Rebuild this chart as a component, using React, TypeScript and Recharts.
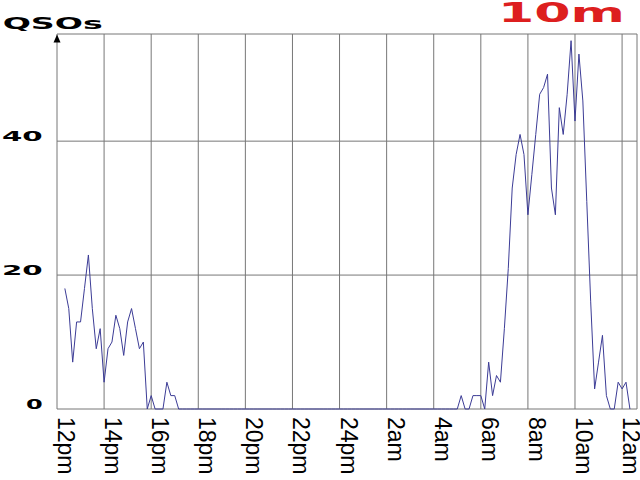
import React from "react";
import { LineChart, Line, XAxis, YAxis, CartesianGrid } from "recharts";

// 10-minute slots starting at 12pm (slot 0) through a little past 12am (slot 144)
const qsos: (number | null)[] = [
  null, null, 18, 15, 7, 13, 13, 18, 23, 15,
  9, 12, 4, 9, 10, 14, 12, 8, 13, 15,
  12, 9, 10, 0, 2, 0, 0, 0, 4, 2,
  2, 0, 0, 0, 0, 0, 0, 0, 0, 0,
  0, 0, 0, 0, 0, 0, 0, 0, 0, 0,
  0, 0, 0, 0, 0, 0, 0, 0, 0, 0,
  0, 0, 0, 0, 0, 0, 0, 0, 0, 0,
  0, 0, 0, 0, 0, 0, 0, 0, 0, 0,
  0, 0, 0, 0, 0, 0, 0, 0, 0, 0,
  0, 0, 0, 0, 0, 0, 0, 0, 0, 0,
  0, 0, 0, 2, 0, 0, 2, 2, 2, 0,
  7, 2, 5, 4, 12, 21, 33, 38, 41, 38,
  29, 35, 41, 47, 48, 50, 33, 29, 45, 41,
  47, 55, 43, 53, 46, 31, 16, 3, 7, 11,
  2, 0, 0, 4, 3, 4, 0,
];

const tickSlots = [0, 12, 24, 36, 48, 60, 72, 84, 96, 108, 120, 132, 144];
const tickLabels = ["12pm", "14pm", "16pm", "18pm", "20pm", "22pm", "24pm", "2am", "4am", "6am", "8am", "10am", "12am"];
const yTicks = [0, 20, 40];
const yTickLabels = ["0", "20", "40"];
const yLabel = "QSOs";
const bandTitle = "10m";

const data = qsos.map((v, i) => ({ slot: i, qsos: v }));

const WIDE_FONT = "'DejaVu Sans', sans-serif";

const XTick = (props: any) => {
  const { x, payload, index } = props;
  const label = tickLabels[index] ?? String(payload.value);
  return (
    <text
      transform={`translate(${x + 1},417) rotate(90)`}
      x={0}
      y={0}
      fontFamily="'Liberation Sans', Arial, sans-serif"
      fontSize={23}
      fill="#000"
      textAnchor="start"
    >
      {label}
    </text>
  );
};

const YTick = (props: any) => {
  const { y, payload } = props;
  const idx = yTicks.indexOf(payload.value);
  const label = idx >= 0 ? yTickLabels[idx] : String(payload.value);
  const len = label.length === 1 ? 16.7 : 40.7;
  return (
    <text
      x={42.7}
      y={y}
      textAnchor="end"
      fontFamily={WIDE_FONT}
      fontWeight="bold"
      fontSize={14}
      fill="#000"
      textLength={len}
      lengthAdjust="spacingAndGlyphs"
    >
      {label}
    </text>
  );
};

const YAxisLabel = (props: any) => {
  const vb = props.viewBox || {};
  const ax = (vb.x ?? 0) + (vb.width ?? 57);
  const top = vb.y ?? 34;
  return (
    <g>
      <polygon points={`${ax},${top + 0.5} ${ax - 3.5},${top + 8.5} ${ax + 3.5},${top + 8.5}`} fill="#000" />
      <text
        x={2.7}
        y={29.3}
        fontFamily={WIDE_FONT}
        fontWeight="bold"
        fontSize={15}
        fill="#000"
        textLength={100}
        lengthAdjust="spacingAndGlyphs"
      >
        {yLabel}
      </text>
    </g>
  );
};

export default function App() {
  return (
    <div style={{ position: "absolute", left: 0, top: 0, width: 640, height: 480, background: "#fff" }}>
      <LineChart width={640} height={480} data={data} margin={{ top: 34, right: 3, bottom: 0, left: 0 }}>
        <CartesianGrid stroke="#777" strokeWidth={1} horizontal={true} vertical={true} />
        <XAxis
          type="number"
          dataKey="slot"
          domain={[0, 147.8]}
          ticks={tickSlots}
          allowDataOverflow
          height={71}
          axisLine={false}
          tickLine={false}
          tick={<XTick />}
          interval={0}
        />
        <YAxis
          type="number"
          domain={[0, 56]}
          ticks={yTicks}
          width={57}
          axisLine={false}
          tickLine={false}
          tick={<YTick />}
          interval={0}
          label={<YAxisLabel />}
        />
        <Line
          type="linear"
          dataKey="qsos"
          stroke="#3c3c96"
          strokeWidth={1}
          dot={false}
          activeDot={false}
          isAnimationActive={false}
        />
      </LineChart>
      <svg
        width={640}
        height={40}
        style={{ position: "absolute", left: 0, top: 0, pointerEvents: "none" }}
      >
        <text
          x={498}
          y={21.7}
          fontFamily={WIDE_FONT}
          fontWeight="bold"
          fontSize={27}
          fill="#dd1f1f"
          textLength={127}
          lengthAdjust="spacingAndGlyphs"
        >
          {bandTitle}
        </text>
      </svg>
    </div>
  );
}
